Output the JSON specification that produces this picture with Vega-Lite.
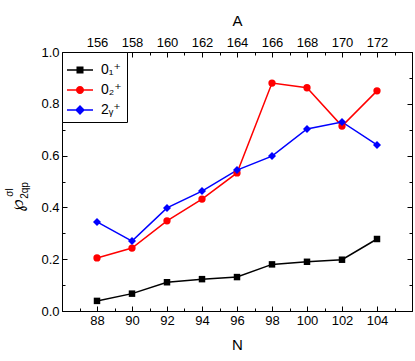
{
  "$schema": "https://vega.github.io/schema/vega-lite/v6.json",
  "width": 350,
  "height": 259,
  "autosize": {"type": "none"},
  "padding": {"left": 62, "top": 52, "right": 3, "bottom": 50},
  "background": "white",
  "config": {
    "font": "Liberation Sans, DejaVu Sans",
    "view": {"stroke": "black", "strokeWidth": 1},
    "axis": {
      "grid": false,
      "domainColor": "black",
      "domainWidth": 1,
      "tickColor": "black",
      "tickWidth": 1,
      "labelColor": "black",
      "labelFontSize": 13,
      "labelFlush": false,
      "labelOverlap": false,
      "titleColor": "black",
      "titleFontWeight": "normal",
      "titleFontSize": 15
    }
  },
  "data": {
    "values": [
      {"series": "0₁⁺", "N": 88, "A": 156, "val": 0.039},
      {"series": "0₁⁺", "N": 90, "A": 158, "val": 0.067},
      {"series": "0₁⁺", "N": 92, "A": 160, "val": 0.111},
      {"series": "0₁⁺", "N": 94, "A": 162, "val": 0.123},
      {"series": "0₁⁺", "N": 96, "A": 164, "val": 0.131},
      {"series": "0₁⁺", "N": 98, "A": 166, "val": 0.18},
      {"series": "0₁⁺", "N": 100, "A": 168, "val": 0.19},
      {"series": "0₁⁺", "N": 102, "A": 170, "val": 0.198},
      {"series": "0₁⁺", "N": 104, "A": 172, "val": 0.278},
      {"series": "0₂⁺", "N": 88, "A": 156, "val": 0.205},
      {"series": "0₂⁺", "N": 90, "A": 158, "val": 0.243},
      {"series": "0₂⁺", "N": 92, "A": 160, "val": 0.348},
      {"series": "0₂⁺", "N": 94, "A": 162, "val": 0.432},
      {"series": "0₂⁺", "N": 96, "A": 164, "val": 0.533},
      {"series": "0₂⁺", "N": 98, "A": 166, "val": 0.88},
      {"series": "0₂⁺", "N": 100, "A": 168, "val": 0.862},
      {"series": "0₂⁺", "N": 102, "A": 170, "val": 0.714},
      {"series": "0₂⁺", "N": 104, "A": 172, "val": 0.85},
      {"series": "2ᵧ⁺", "N": 88, "A": 156, "val": 0.344},
      {"series": "2ᵧ⁺", "N": 90, "A": 158, "val": 0.27},
      {"series": "2ᵧ⁺", "N": 92, "A": 160, "val": 0.398},
      {"series": "2ᵧ⁺", "N": 94, "A": 162, "val": 0.463},
      {"series": "2ᵧ⁺", "N": 96, "A": 164, "val": 0.544},
      {"series": "2ᵧ⁺", "N": 98, "A": 166, "val": 0.598},
      {"series": "2ᵧ⁺", "N": 100, "A": 168, "val": 0.703},
      {"series": "2ᵧ⁺", "N": 102, "A": 170, "val": 0.73},
      {"series": "2ᵧ⁺", "N": 104, "A": 172, "val": 0.641}
    ]
  },
  "layer": [
    {
      "encoding": {
        "x": {
          "field": "N", "type": "quantitative",
          "scale": {"domain": [86, 106], "nice": false, "zero": false},
          "axis": {
            "orient": "bottom",
            "title": "N",
            "titlePadding": 8,
            "values": [87, 88, 89, 90, 91, 92, 93, 94, 95, 96, 97, 98, 99, 100, 101, 102, 103, 104, 105],
            "labelExpr": "datum.value % 2 == 0 ? datum.label : ''",
            "labelPadding": 8,
            "tickSize": {"condition": {"test": "datum.value % 2 == 0", "value": -5}, "value": -3}
          }
        },
        "y": {
          "field": "val", "type": "quantitative",
          "scale": {"domain": [0, 1], "nice": false},
          "axis": {
            "orient": "left",
            "title": null,
            "format": ".1f",
            "values": [0, 0.1, 0.2, 0.3, 0.4, 0.5, 0.6, 0.7, 0.8, 0.9, 1.0],
            "labelExpr": "round(datum.value * 10) % 2 == 0 ? datum.label : ''",
            "labelPadding": 8,
            "tickSize": {"condition": {"test": "round(datum.value * 10) % 2 == 0", "value": -5}, "value": -3}
          }
        }
      },
      "layer": [
        {
          "mark": {"type": "line", "strokeWidth": 1.5},
          "encoding": {
            "color": {
              "field": "series", "type": "nominal",
              "scale": {"domain": ["0₁⁺", "0₂⁺", "2ᵧ⁺"], "range": ["#000000", "#ff0000", "#0000ff"]},
              "legend": null
            }
          }
        },
        {
          "mark": {"type": "point", "filled": true, "opacity": 1},
          "encoding": {
            "color": {
              "field": "series", "type": "nominal",
              "scale": {"domain": ["0₁⁺", "0₂⁺", "2ᵧ⁺"], "range": ["#000000", "#ff0000", "#0000ff"]},
              "legend": null
            },
            "shape": {
              "field": "series", "type": "nominal",
              "scale": {"domain": ["0₁⁺", "0₂⁺", "2ᵧ⁺"], "range": ["square", "circle", "diamond"]},
              "legend": null
            },
            "size": {
              "field": "series", "type": "nominal",
              "scale": {"domain": ["0₁⁺", "0₂⁺", "2ᵧ⁺"], "range": [42, 64, 90]},
              "legend": null
            }
          }
        },
        {
          "transform": [{"filter": "false"}],
          "mark": {"type": "point", "filled": true, "opacity": 1},
          "encoding": {
            "color": {
              "field": "series", "type": "nominal",
              "scale": {"domain": ["0₁⁺", "0₂⁺", "2ᵧ⁺"], "range": ["#000000", "#ff0000", "#0000ff"]},
              "legend": {
                "title": null, "orient": "top-left", "offset": 0, "padding": 5,
                "strokeColor": "black", "fillColor": "white",
                "symbolSize": 676, "symbolStrokeWidth": 0,
                "labelFontSize": 14, "labelColor": "black", "labelOffset": 8, "rowPadding": -3
              }
            },
            "shape": {
              "field": "series", "type": "nominal",
              "scale": {
                "domain": ["0₁⁺", "0₂⁺", "2ᵧ⁺"],
                "range": [
                  "M-1,-0.058L1,-0.058L1,0.058L-1,0.058ZM-0.27,-0.27L0.27,-0.27L0.27,0.27L-0.27,0.27Z",
                  "M-1,-0.058L1,-0.058L1,0.058L-1,0.058ZM-0.31,0A0.31,0.31 0 1,1 0.31,0A0.31,0.31 0 1,1 -0.31,0Z",
                  "M-1,-0.058L1,-0.058L1,0.058L-1,0.058ZM0,-0.38L0.38,0L0,0.38L-0.38,0Z"
                ]
              },
              "legend": {
                "title": null, "orient": "top-left", "offset": 0, "padding": 5,
                "strokeColor": "black", "fillColor": "white",
                "symbolSize": 676, "symbolStrokeWidth": 0,
                "labelFontSize": 14, "labelColor": "black", "labelOffset": 8, "rowPadding": -3
              }
            }
          }
        }
      ],
      "resolve": {"scale": {"shape": "independent", "color": "independent", "size": "independent"}}
    },
    {
      "mark": {"type": "point", "opacity": 0},
      "encoding": {
        "x": {
          "field": "A", "type": "quantitative",
          "scale": {"domain": [154, 174], "nice": false, "zero": false},
          "axis": {
            "orient": "top",
            "title": "A",
            "titlePadding": 6,
            "values": [155, 156, 157, 158, 159, 160, 161, 162, 163, 164, 165, 166, 167, 168, 169, 170, 171, 172, 173],
            "labelExpr": "datum.value % 2 == 0 ? datum.label : ''",
            "labelPadding": 8,
            "tickSize": {"condition": {"test": "datum.value % 2 == 0", "value": -5}, "value": -3}
          }
        },
        "y": {
          "field": "val", "type": "quantitative",
          "scale": {"domain": [0, 1], "nice": false},
          "axis": {
            "orient": "right",
            "title": null,
            "labels": false,
            "values": [0, 0.1, 0.2, 0.3, 0.4, 0.5, 0.6, 0.7, 0.8, 0.9, 1.0],
            "tickSize": {"condition": {"test": "round(datum.value * 10) % 2 == 0", "value": -5}, "value": -3}
          }
        }
      }
    },
    {
      "mark": {"type": "point", "opacity": 0},
      "encoding": {
        "y": {
          "field": "val", "type": "quantitative",
          "scale": {"domain": [0, 1], "nice": false},
          "axis": {
            "orient": "left", "domain": false, "ticks": false, "labels": false,
            "title": "℘", "titleFontSize": 18, "titleAngle": -90,
            "titleAlign": "center", "titleBaseline": "middle",
            "titleX": -45, "titleY": 153
          }
        }
      }
    },
    {
      "mark": {"type": "point", "opacity": 0},
      "encoding": {
        "y": {
          "field": "val", "type": "quantitative",
          "scale": {"domain": [0, 1], "nice": false},
          "axis": {
            "orient": "left", "domain": false, "ticks": false, "labels": false,
            "title": "σl", "titleFontSize": 10, "titleAngle": -90,
            "titleAlign": "center", "titleBaseline": "middle",
            "titleX": -53, "titleY": 140
          }
        }
      }
    },
    {
      "mark": {"type": "point", "opacity": 0},
      "encoding": {
        "y": {
          "field": "val", "type": "quantitative",
          "scale": {"domain": [0, 1], "nice": false},
          "axis": {
            "orient": "left", "domain": false, "ticks": false, "labels": false,
            "title": "2qp", "titleFontSize": 10, "titleAngle": -90,
            "titleAlign": "center", "titleBaseline": "middle",
            "titleX": -38, "titleY": 138
          }
        }
      }
    }
  ],
  "resolve": {"scale": {"x": "independent", "y": "independent"}}
}
